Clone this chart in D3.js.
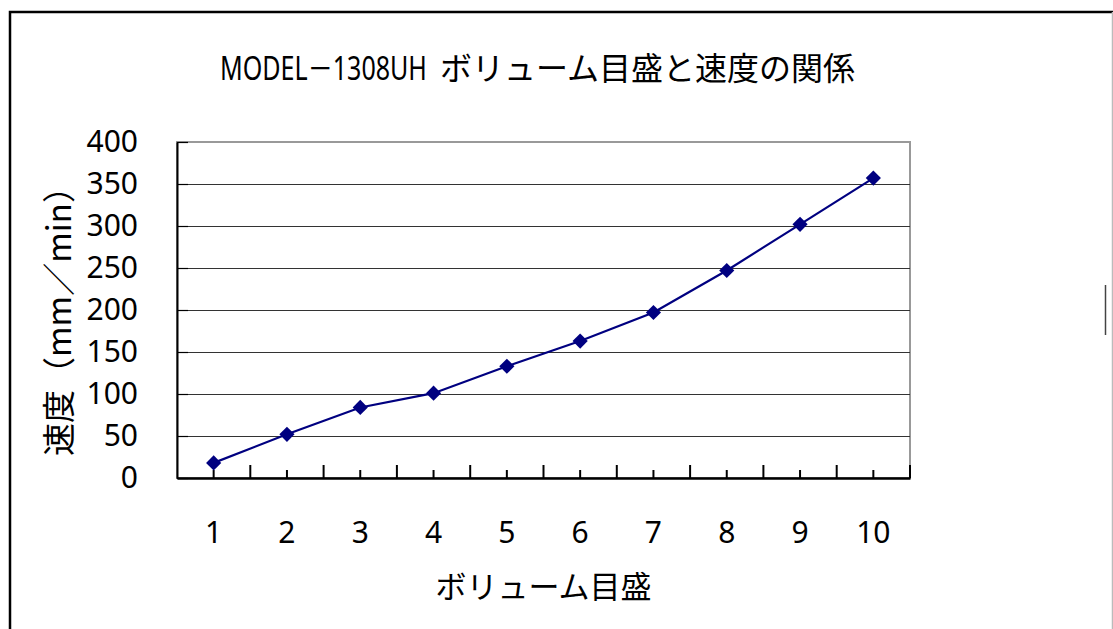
<!DOCTYPE html>
<html>
<head>
<meta charset="utf-8">
<script src="https://cdn.jsdelivr.net/npm/d3@7"></script>
<style>
  body { margin: 0; background: #fff; }
  text { fill: #000; }
</style>
</head>
<body>
<svg id="chart"></svg>
<script>
// data
var volumeSteps = [1, 2, 3, 4, 5, 6, 7, 8, 9, 10];
var speeds = [18, 52, 84, 101, 133, 163, 197, 247, 302, 357];
var yTicks = [0, 50, 100, 150, 200, 250, 300, 350, 400];

var titleLatin = "MODEL－1308UH";
var titleJa = "ボリューム目盛と速度の関係";
var xTitle = "ボリューム目盛";
var yTitle = "速度（mm／min）";

var svgWidth = 1113, svgHeight = 629;
var plot = { left: 177, right: 910, top: 142, bottom: 478 };

var svg = d3.select("#chart")
  .attr("width", svgWidth)
  .attr("height", svgHeight);

// outer chart frame (only top/left are visible in the picture)
svg.append("path")
  .attr("d", "M10,629V12H1113")
  .attr("fill", "none")
  .attr("stroke", "#000")
  .attr("stroke-width", 2.5);
svg.append("line")
  .attr("x1", 1112.5).attr("x2", 1112.5).attr("y1", 12).attr("y2", 629)
  .attr("stroke", "#bbb").attr("stroke-width", 1.5);
svg.append("line")
  .attr("x1", 1105.5).attr("x2", 1105.5).attr("y1", 285).attr("y2", 335)
  .attr("stroke", "#444").attr("stroke-width", 1.5);

var x = d3.scaleBand()
  .domain(volumeSteps)
  .range([plot.left, plot.right]);
var y = d3.scaleLinear()
  .domain([0, 400])
  .range([plot.bottom, plot.top]);
var half = x.bandwidth() / 2;

// plot area border
svg.append("rect")
  .attr("x", plot.left).attr("y", plot.top)
  .attr("width", plot.right - plot.left)
  .attr("height", plot.bottom - plot.top)
  .attr("fill", "none")
  .attr("stroke", "#999")
  .attr("stroke-width", 2);

// horizontal gridlines
svg.append("g")
  .selectAll("line")
  .data(yTicks.filter(function(d) { return d > 0 && d < 400; }))
  .enter().append("line")
    .attr("x1", plot.left).attr("x2", plot.right)
    .attr("y1", function(d) { return Math.round(y(d)) + 0.5; })
    .attr("y2", function(d) { return Math.round(y(d)) + 0.5; })
    .attr("stroke", "#333")
    .attr("stroke-width", 1);

// y axis
var yAxis = svg.append("g")
  .attr("transform", "translate(" + plot.left + ",0)")
  .call(d3.axisLeft(y).tickValues(yTicks).tickSizeInner(-11).tickSizeOuter(0).tickPadding(39));
yAxis.select(".domain").attr("stroke", "#000").attr("stroke-width", 2);
yAxis.selectAll(".tick line").attr("stroke", "#000").attr("stroke-width", 1.2);
yAxis.selectAll(".tick text")
  .attr("font-family", "'Noto Sans', sans-serif")
  .attr("font-size", 30)
  .attr("fill", "#000");

// x axis: minor ticks at category centres, labels under them
var xAxis = svg.append("g")
  .attr("transform", "translate(0," + plot.bottom + ")")
  .call(d3.axisBottom(x).tickSizeInner(-8).tickSizeOuter(0).tickPadding(44));
xAxis.select(".domain").attr("stroke", "#000").attr("stroke-width", 2.5);
xAxis.selectAll(".tick line").attr("stroke", "#000").attr("stroke-width", 2);
xAxis.selectAll(".tick text")
  .attr("font-family", "'Noto Sans', sans-serif")
  .attr("font-size", 30)
  .attr("fill", "#000");

// major ticks on category boundaries
svg.append("g")
  .selectAll("line")
  .data(volumeSteps.slice(1).map(function(d) { return x(d); }).concat([plot.right]))
  .enter().append("line")
    .attr("x1", function(d) { return d; }).attr("x2", function(d) { return d; })
    .attr("y1", plot.bottom).attr("y2", plot.bottom - 13)
    .attr("stroke", "#000")
    .attr("stroke-width", 2);

// series
var points = volumeSteps.map(function(d, i) { return { step: d, speed: speeds[i] }; });

var line = d3.line()
  .x(function(d) { return x(d.step) + half; })
  .y(function(d) { return y(d.speed); });

svg.append("path")
  .datum(points)
  .attr("d", line)
  .attr("fill", "none")
  .attr("stroke", "#000080")
  .attr("stroke-width", 2.2);

svg.append("g")
  .selectAll("path")
  .data(points)
  .enter().append("path")
    .attr("d", d3.symbol(d3.symbolSquare, 115))
    .attr("transform", function(d) {
      return "translate(" + (x(d.step) + half) + "," + y(d.speed) + ") rotate(45)";
    })
    .attr("fill", "#000080");

// titles - the latin part is squeezed to look like the narrow original font
var latin = svg.append("text")
  .attr("font-family", "'Noto Sans', 'Noto Sans CJK JP', sans-serif")
  .attr("font-size", 32)
  .text(titleLatin);
var latinWidth = latin.node().getComputedTextLength();
latin.attr("transform", "translate(220,80) scale(" + (207 / latinWidth) + ",1)");

svg.append("text")
  .attr("x", 440)
  .attr("y", 80)
  .attr("font-family", "'Noto Sans CJK JP', sans-serif")
  .attr("font-size", 32)
  .attr("letter-spacing", 0)
  .text(titleJa);

svg.append("text")
  .attr("x", (plot.left + plot.right) / 2)
  .attr("y", 598)
  .attr("text-anchor", "middle")
  .attr("font-family", "'Noto Sans CJK JP', sans-serif")
  .attr("font-size", 31)
  .text(xTitle);

svg.append("text")
  .attr("transform", "translate(57,313) rotate(-90)")
  .attr("text-anchor", "middle")
  .attr("dominant-baseline", "central")
  .attr("font-family", "'Noto Sans CJK JP', sans-serif")
  .attr("font-size", 33)
  .text(yTitle);
</script>
</body>
</html>
